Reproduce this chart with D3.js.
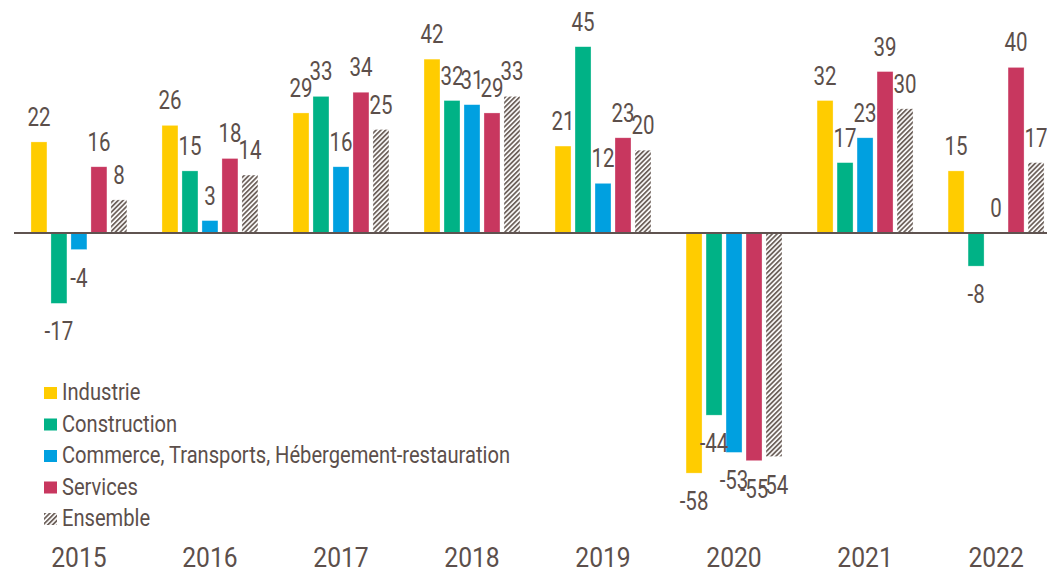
<!DOCTYPE html>
<html>
<head>
<meta charset="utf-8">
<script src="https://cdn.jsdelivr.net/npm/d3@7"></script>
<style>
  body { margin: 0; background: #fff; }
  svg text { font-family: "Liberation Sans Narrow", Roboto, sans-serif; fill: #5c4f4b; }
</style>
</head>
<body>
<div id="chart"></div>
<script>
// data
var years = ["2015", "2016", "2017", "2018", "2019", "2020", "2021", "2022"];
var seriesNames = ["Industrie", "Construction", "Commerce, Transports, Hébergement-restauration", "Services", "Ensemble"];
var industrie    = [22, 26, 29, 42, 21, -58, 32, 15];
var construction = [-17, 15, 33, 32, 45, -44, 17, -8];
var commerce     = [-4, 3, 16, 31, 12, -53, 23, 0];
var services     = [16, 18, 34, 29, 23, -55, 39, 40];
var ensemble     = [8, 14, 25, 33, 20, -54, 30, 17];
var colors = ["#ffcc00", "#00b286", "#00a0e0", "#c8375f", "url(#hatch)"];

var width = 1047,
    height = 571,
    zeroY = 233,
    pxPerUnit = 4.14,
    textColor = "#5c4f4b";

var allSeries = [industrie, construction, commerce, services, ensemble];

// no narrow font installed: squeeze Roboto horizontally instead
var squeeze = function(sel, k) {
    sel.each(function() {
        var t = d3.select(this);
        var tx = +t.attr("x") || 0, ty = +t.attr("y") || 0;
        t.attr("x", 0).attr("y", 0)
            .attr("transform", "translate(" + tx + "," + ty + ") scale(" + k + ",1)");
    });
};

var svg = d3.select("#chart").append("svg")
    .attr("width", width)
    .attr("height", height);

// hatch pattern for "Ensemble"
var defs = svg.append("defs");
var pat = defs.append("pattern")
    .attr("id", "hatch")
    .attr("patternUnits", "userSpaceOnUse")
    .attr("width", 3.4)
    .attr("height", 3.4)
    .attr("patternTransform", "rotate(45)");
pat.append("rect").attr("width", 3.4).attr("height", 3.4).attr("fill", "#ffffff");
pat.append("rect").attr("width", 1.8).attr("height", 3.4).attr("fill", "#6e625c");

// scales
var x = d3.scaleBand()
    .domain(years)
    .range([13.5, 1061.5])
    .paddingInner(0.237)
    .paddingOuter(0.118);
var xSub = d3.scaleBand()
    .domain(d3.range(seriesNames.length))
    .range([0, x.bandwidth()])
    .paddingInner(0.2)
    .paddingOuter(0.1);
var y = d3.scaleLinear()
    .domain([-60, 50])
    .range([zeroY + 60 * pxPerUnit, zeroY - 50 * pxPerUnit]);

var cells = [];
years.forEach(function(yr, i) {
    allSeries.forEach(function(s, j) {
        cells.push({year: yr, s: j, v: s[i]});
    });
});

// bars
svg.append("g").attr("id", "bars")
    .selectAll("rect")
    .data(cells)
    .join("rect")
    .attr("x", function(d) { return x(d.year) + xSub(d.s); })
    .attr("width", xSub.bandwidth())
    .attr("y", function(d) { return y(Math.max(0, d.v)); })
    .attr("height", function(d) { return Math.abs(y(d.v) - y(0)); })
    .attr("fill", function(d) { return colors[d.s]; })
    .attr("stroke", "#ffffff")
    .attr("stroke-opacity", 0.5)
    .attr("stroke-width", 0.6);

// zero line
svg.append("line")
    .attr("x1", 14)
    .attr("x2", width)
    .attr("y1", y(0))
    .attr("y2", y(0))
    .attr("stroke", "#5f5350")
    .attr("stroke-width", 2);

// value labels
var values = svg.append("g").attr("id", "values")
    .selectAll("text")
    .data(cells)
    .join("text")
    .attr("x", function(d) { return x(d.year) + xSub(d.s) + xSub.bandwidth() / 2; })
    .attr("y", function(d) { return d.v >= 0 ? y(d.v) - 16 : y(d.v) + 37; })
    .attr("text-anchor", "middle")
    .attr("font-size", 25)
    .text(function(d) { return d.v; });
squeeze(values, 0.82);

// year axis at bottom
var xAxis = d3.axisBottom(x).tickSize(0).tickPadding(0);
var ax = svg.append("g")
    .attr("transform", "translate(0,544)")
    .call(xAxis);
ax.select(".domain").remove();
ax.selectAll("text")
    .attr("font-size", 28)
    .attr("dy", "0.82em")
    .style("font-family", "\"Liberation Sans Narrow\", Roboto, sans-serif")
    .attr("fill", textColor);
squeeze(ax.selectAll("text"), 0.88);

// legend
var legend = svg.append("g").attr("id", "legend")
    .selectAll("g")
    .data(seriesNames)
    .join("g")
    .attr("transform", function(d, i) { return "translate(44," + (387 + i * 31.5) + ")"; });
legend.append("rect")
    .attr("width", 13)
    .attr("height", 12)
    .attr("fill", function(d, i) { return colors[i]; });
var legendText = legend.append("text")
    .attr("x", 18)
    .attr("y", 13)
    .attr("font-size", 23)
    .text(function(d) { return d; });
squeeze(legendText, 0.875);
</script>
</body>
</html>
